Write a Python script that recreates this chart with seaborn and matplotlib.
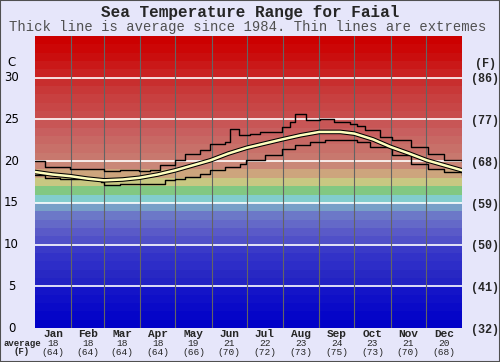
import numpy as np
import pandas as pd
import seaborn as sns
import matplotlib.pyplot as plt
from matplotlib.patches import Rectangle

# Data (day of year, deg C)
max_days = [0, 8.5, 30, 47, 59, 73, 89, 98, 107, 120, 128, 141, 150, 162, 167, 174,
            184, 192, 211, 218, 222, 232, 244, 256, 269, 275, 282, 295, 305, 321, 336, 350, 365]
max_temp = [20.0, 19.3, 19.0, 19.1, 18.8, 18.9, 18.8, 18.9, 19.5, 20.1, 20.9, 21.3, 22.1, 22.3, 23.9, 23.1,
            23.3, 23.5, 24.1, 24.7, 25.7, 24.9, 25.0, 24.7, 24.5, 24.2, 23.7, 22.9, 22.5, 21.7, 20.9, 20.1, 19.9]

min_days = [0, 8.5, 21, 38, 56, 59, 73, 89, 103, 111, 120, 128, 141, 150, 162, 175, 180,
            197, 211, 222, 235, 248, 261, 275, 286, 305, 321, 336, 350, 365]
min_temp = [18.3, 18.0, 17.9, 17.8, 17.5, 17.1, 17.3, 17.3, 17.3, 17.7, 17.9, 18.1, 18.5, 18.9, 19.3, 19.7, 20.1,
            20.7, 21.5, 21.9, 22.3, 22.5, 22.5, 22.3, 21.7, 20.7, 19.7, 19.1, 18.7, 18.3]

avg_days = [0, 15, 30, 45, 59, 75, 89, 105, 120, 135, 150, 165, 181, 196, 211, 227,
            243, 261, 273, 289, 304, 320, 335, 350, 365]
avg_temp = [18.7, 18.4, 18.2, 17.9, 17.7, 17.8, 18.0, 18.4, 18.9, 19.5, 20.1, 20.9, 21.6, 22.1, 22.6, 23.1,
            23.5, 23.5, 23.3, 22.6, 21.7, 20.9, 20.1, 19.5, 18.9]

months = ['Jan', 'Feb', 'Mar', 'Apr', 'May', 'Jun', 'Jul', 'Aug', 'Sep', 'Oct', 'Nov', 'Dec']
month_avg_c = [18, 18, 18, 18, 19, 21, 22, 23, 24, 23, 21, 20]
month_avg_f = [64, 64, 64, 64, 66, 70, 72, 73, 75, 73, 70, 68]
month_start = [0, 31, 59, 90, 120, 151, 181, 212, 243, 273, 304, 334, 365]

c_ticks = [0, 5, 10, 15, 20, 25, 30]
f_ticks = [32, 41, 50, 59, 68, 77, 86]

# one colour stripe per degree, 0..35
band_rgb = [
    (0, 0, 200), (5, 5, 200), (10, 10, 200), (15, 15, 200), (20, 20, 200),
    (35, 35, 195), (40, 40, 195), (45, 45, 200), (50, 50, 200), (58, 58, 200),
    (80, 80, 200), (90, 90, 200), (100, 105, 200), (108, 120, 200), (120, 160, 200),
    (130, 205, 205), (130, 200, 130), (200, 200, 130), (205, 165, 125), (202, 135, 120),
    (200, 120, 110), (200, 112, 105), (200, 104, 100), (200, 95, 95), (200, 86, 86),
    (200, 76, 76), (200, 70, 70), (200, 64, 64), (200, 56, 56), (200, 46, 46),
    (202, 34, 34), (202, 24, 24), (202, 14, 14), (204, 6, 6), (204, 0, 0),
]

sns.set_style('white')
plt.rcParams['font.family'] = ['DejaVu Sans']
mono = 'Liberation Mono'
bg = '#e6e6fa'

fig = plt.figure(figsize=(5, 3.62), dpi=100, facecolor=bg)
ax = fig.add_axes([0.07, 0.0939, 0.854, 0.8067])

for i, c in enumerate(band_rgb):
    ax.axhspan(i, i + 1, color=np.array(c) / 255, lw=0, zorder=0)

for t in c_ticks[1:]:
    ax.axhline(t, color='white', lw=1.2, zorder=1)
for d in month_start[1:-1]:
    ax.axvline(d, color='#646464', lw=0.8, zorder=1)

df_max = pd.DataFrame({'day': max_days, 'temp': max_temp})
df_min = pd.DataFrame({'day': min_days, 'temp': min_temp})
df_avg = pd.DataFrame({'day': avg_days, 'temp': avg_temp})

sns.lineplot(data=df_max, x='day', y='temp', ax=ax, color='black', lw=1.0,
             drawstyle='steps-post', zorder=3)
sns.lineplot(data=df_min, x='day', y='temp', ax=ax, color='black', lw=1.0,
             drawstyle='steps-post', zorder=3)
sns.lineplot(data=df_avg, x='day', y='temp', ax=ax, color='black', lw=3.3, zorder=4)
sns.lineplot(data=df_avg, x='day', y='temp', ax=ax, color='#ffffbe', lw=1.8, zorder=5)

ax.set_xlim(0, 365)
ax.set_ylim(0, 35)
ax.set_xticks([])
ax.set_yticks([])
ax.set_xlabel('')
ax.set_ylabel('')
for s in ax.spines.values():
    s.set_visible(False)

# left / right scale labels
for c in c_ticks:
    ax.text(-20, c, str(c), ha='center', va='center', fontsize=8.5, color='black')
ax.text(-20, 31.8, 'C', ha='center', va='center', fontsize=8.5, color='black')
for c, f in zip(c_ticks, f_ticks):
    ax.text(385, c - 0.2, f'({f})', ha='center', va='center', fontsize=8.5,
            family=mono, weight='bold')
ax.text(385, 31.6, '(F)', ha='center', va='center', fontsize=8.5,
        family=mono, weight='bold')

# month labels below the plot
tr = ax.get_xaxis_transform()
for i, m in enumerate(months):
    mid = (month_start[i] + month_start[i + 1]) / 2
    ax.text(mid, -0.022, m, transform=tr, ha='center', va='center', fontsize=8,
            family=mono, weight='bold')
    ax.text(mid, -0.052, str(month_avg_c[i]), transform=tr, ha='center', va='center',
            fontsize=6.8, family=mono)
    ax.text(mid, -0.083, f'({month_avg_f[i]})', transform=tr, ha='center', va='center',
            fontsize=6.8, family=mono)
fig.text(0.044, 1 - 343 / 362, 'average', ha='center', va='center', fontsize=6.5,
         family=mono, weight='bold')
fig.text(0.044, 1 - 352 / 362, '(F)', ha='center', va='center', fontsize=6.5,
         family=mono, weight='bold')

fig.text(0.5, 1 - 12 / 362, 'Sea Temperature Range for Faial', ha='center', va='center',
         fontsize=11.5, family=mono, weight='bold')
fig.text(0.496, 1 - 27 / 362, 'Thick line is average since 1984. Thin lines are extremes',
         ha='center', va='center', fontsize=10, family=mono, color='#505050')

fig.patches.append(Rectangle((0, 0), 1, 1, transform=fig.transFigure, fill=False,
                             edgecolor='#505050', lw=1.5))

fig.savefig('out.png', dpi=100, facecolor=bg)
